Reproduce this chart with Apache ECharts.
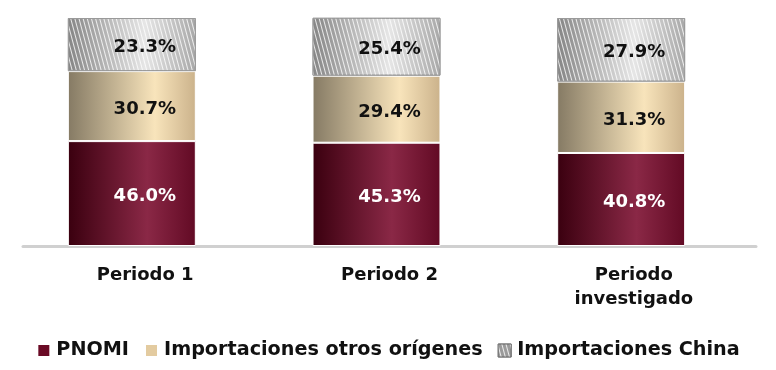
<!DOCTYPE html>
<html><head><meta charset="utf-8">
<script src="https://cdn.jsdelivr.net/npm/echarts@6/dist/echarts.min.js"></script>
<style>html,body{margin:0;padding:0;background:#fff}#c{width:776px;height:370px}</style>
</head><body><div id="c"></div>
<script>
var categories = ['Periodo 1', 'Periodo 2', 'Periodo\ninvestigado'];
var pnomi = [46.0, 45.3, 40.8];
var otros = [30.7, 29.4, 31.3];
var china = [23.3, 25.4, 27.9];
var seriesNames = ['PNOMI', 'Importaciones otros orígenes', 'Importaciones China'];

var FONT = '"DejaVu Sans", sans-serif';
function grad(stops){
  return new echarts.graphic.LinearGradient(0,0,1,0, stops.map(function(s){return {offset:s[0],color:s[1]};}));
}
var lbl = function(color){
  return {show:true, position:'inside', offset:[13,3], color:color, fontSize:18, fontWeight:'bold', fontFamily:FONT,
    formatter:function(p){return p.value.toFixed(1)+'%';}};
};
var hatch = {symbol:'rect', symbolSize:1, color:'rgba(255,255,255,0.8)', dashArrayX:[1,0], dashArrayY:[1,3], rotation:Math.PI/2.4};
var chart = echarts.init(document.getElementById('c'));
chart.setOption({
  animation:false,
  backgroundColor:'#fff',
  grid:[{left:9.5,right:32.5,top:18,bottom:124},{left:23,right:20,top:18,bottom:124}],
  legend:{
    bottom:5, left:'center', icon:'rect', itemWidth:13, itemHeight:13, itemGap:15,
    textStyle:{fontSize:19.2, fontWeight:'bold', color:'#111', fontFamily:FONT, padding:[0,0,0,1]},
    data:[
      {name:seriesNames[0], itemStyle:{color:'#6a0a25'}},
      {name:seriesNames[1], itemStyle:{color:'#e3cba0'}},
      {name:seriesNames[2], itemStyle:{color:'#9a9a9a', borderColor:'#777', borderWidth:1}}
    ]
  },
  xAxis:[
    {type:'category', gridIndex:0, data:categories, show:false},
    {type:'category', gridIndex:1, data:categories,
      axisLine:{lineStyle:{color:'#d0d0d0', width:3}}, axisTick:{show:false},
      axisLabel:{fontSize:18, fontWeight:'bold', color:'#111', fontFamily:FONT, margin:17, lineHeight:24}}
  ],
  yAxis:[
    {type:'value', gridIndex:0, min:0, max:100, show:false, splitLine:{show:false}},
    {type:'value', gridIndex:1, min:0, max:100, show:false, splitLine:{show:false}}
  ],
  series:[
    {name:seriesNames[0], type:'bar', stack:'a', barWidth:'52.3%', data:pnomi,
      itemStyle:{color:grad([[0,'#3a000f'],[0.62,'#8a2846'],[1,'#620a24']]), borderColor:'#fff', borderWidth:1},
      label:lbl('#fff')},
    {name:seriesNames[1], type:'bar', stack:'a', data:otros,
      itemStyle:{color:grad([[0,'#857a64'],[0.68,'#f8e4bb'],[1,'#cbb28b']]), borderColor:'#fff', borderWidth:1},
      label:lbl('#111')},
    {name:seriesNames[2], type:'bar', stack:'a', data:china,
      itemStyle:{color:grad([[0,'#858585'],[0.6,'#e6e6e6'],[1,'#a8a8a8']]), borderColor:'#9a9a9a', borderWidth:1, decal:hatch},
      label:lbl('#111')}
  ]
});
</script></body></html>
